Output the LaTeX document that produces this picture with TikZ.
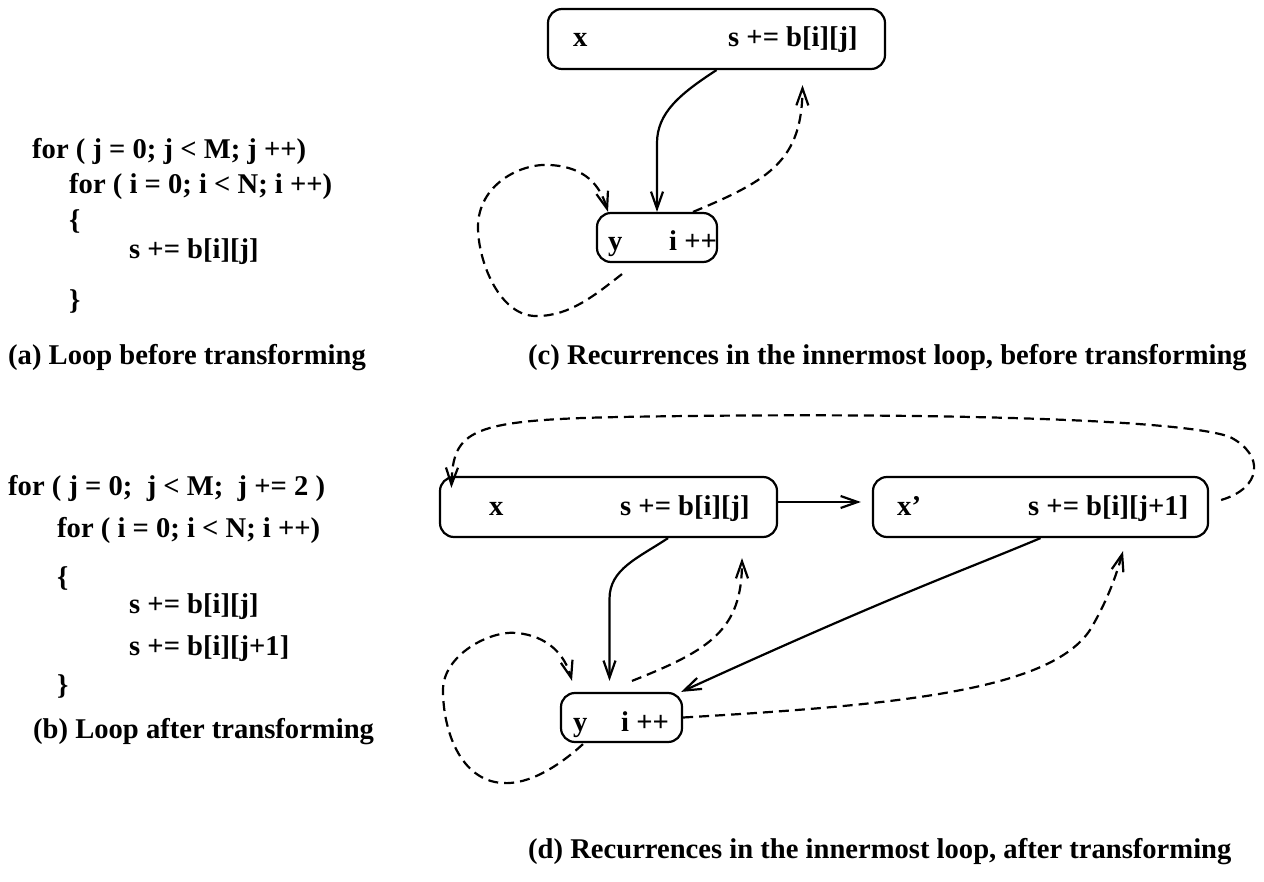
\documentclass[tikz,border=0pt]{standalone}
\usepackage{fontspec}
\setmainfont{Liberation Serif}
\usetikzlibrary{arrows.meta}
\begin{document}
\frenchspacing
\begin{tikzpicture}[x=1pt,y=-1pt,
  txt/.style={anchor=base west, inner sep=0pt, font=\fontsize{28.6}{34}\selectfont\bfseries},
  box/.style={draw, line width=2.2pt, rounded corners=14pt, inner sep=0pt},
  con/.style={line width=2.2pt, -{Straight Barb[length=17pt,width=12pt]}},
  dsh/.style={con, dash pattern=on 10pt off 6pt}]
\useasboundingbox (0,0) rectangle (1264,882);

% (a) code
\node[txt] (a1) at (32,159) {for ( j = 0; j < M; j ++)};
\node[txt] (a2) at (69,194) {for ( i = 0; i < N; i ++)};
\node[txt] (a3) at (69,230) {\{};
\node[txt] (a4) at (129,259) {s += b[i][j]};
\node[txt] (a5) at (69,310) {\}};
\node[txt] (ca) at (8,365) {(a) Loop before transforming};

% (b) code
\node[txt] (b1) at (8,495) {for ( j = 0;\ \ j < M;\ \ j += 2 )};
\node[txt] (b2) at (57,537) {for ( i = 0; i < N; i ++)};
\node[txt] (b3) at (57,586) {\{};
\node[txt] (b4) at (129,613) {s += b[i][j]};
\node[txt] (b5) at (129,655) {s += b[i][j+1]};
\node[txt] (b6) at (57,694) {\}};
\node[txt] (cb) at (33,738) {(b) Loop after transforming};

% (c) graph
\node[box, minimum width=337pt, minimum height=60pt] (X1) at (716.5,39) {};
\node[txt] (X1a) at (573,47) {x};
\node[txt] (X1b) at (728,47) {s += b[i][j]};
\node[box, minimum width=120pt, minimum height=49pt] (Y1) at (657,237.5) {};
\node[txt] (Y1a) at (608,251) {y};
\node[txt] (Y1b) at (669,251) {i ++};
\node[txt] (cc) at (528,365) {(c) Recurrences in the innermost loop, before transforming};

\draw[con] (X1.south) .. controls +(-37,24) and +(0,-30) .. ([yshift=-73pt]X1.south -| Y1.north) -- (Y1.north);
\draw[dsh] ([xshift=36pt]Y1.north) .. controls (770,180) and (802,160) .. ([xshift=86pt,yshift=-15pt]X1.south);
\draw[dsh] ([xshift=-35pt,yshift=-11pt]Y1.south)
   .. controls (595,295) and (570,316) .. (537,316)
   .. controls (500,317) and (478,262) .. (478,227)
   .. controls (478,185) and (520,163) .. (550,165)
   .. controls (585,167) and (600,185) .. ([xshift=-49pt]Y1.north);

% (d) graph
\node[box, minimum width=337pt, minimum height=60pt] (X2) at (608.5,507) {};
\node[txt] (X2a) at (489,515) {x};
\node[txt] (X2b) at (620,515) {s += b[i][j]};
\node[box, minimum width=335pt, minimum height=60pt] (X3) at (1040.5,507) {};
\node[txt] (X3a) at (897,515) {x’};
\node[txt] (X3b) at (1028,515) {s += b[i][j+1]};
\node[box, minimum width=121pt, minimum height=49pt] (Y2) at (621.5,717.5) {};
\node[txt] (Y2a) at (573,731) {y};
\node[txt] (Y2b) at (621,731) {i ++};
\node[txt] (cd) at (528,858) {(d) Recurrences in the innermost loop, after transforming};

\draw[con] ([yshift=5pt]X2.east) -- ([xshift=-11pt,yshift=5pt]X3.west);
\draw[con] ([xshift=59.5pt]X2.south) .. controls +(-30,20) and +(0,-30) .. ([xshift=-12pt,yshift=93pt]Y2.north) -- ([xshift=-12pt,yshift=11pt]Y2.north);
\draw[dsh] ([xshift=10.5pt,yshift=11pt]Y2.north) .. controls (710,650) and (742,630) .. ([xshift=133.5pt,yshift=-20pt]X2.south);
\draw[dsh] ([xshift=-38.5pt,yshift=-1pt]Y2.south)
   .. controls (560,765) and (530,785) .. (502,783)
   .. controls (460,780) and (443,730) .. (443,690)
   .. controls (443,655) and (490,630) .. (517,633)
   .. controls (548,636) and (565,655) .. ([xshift=-49.5pt,yshift=11pt]Y2.north);
\draw[con] (X3.south) .. controls (960,572) and (900,592) .. ([xshift=-2pt]Y2.north east);
\draw[dsh] (Y2.east) .. controls (900,705) and (1050,690) .. (1090,630)
   .. controls (1105,605) and (1115,580) .. ([xshift=82.5pt,yshift=-13pt]X3.south);
\draw[dsh] ([xshift=12pt,yshift=7pt]X3.east)
   .. controls (1262,488) and (1265,455) .. (1230,437)
   .. controls (1180,418) and (900,412) .. (620,417)
   .. controls (470,420) and (453,430) .. ([xshift=12.5pt,yshift=-12pt]X2.north west);
\end{tikzpicture}
\end{document}
